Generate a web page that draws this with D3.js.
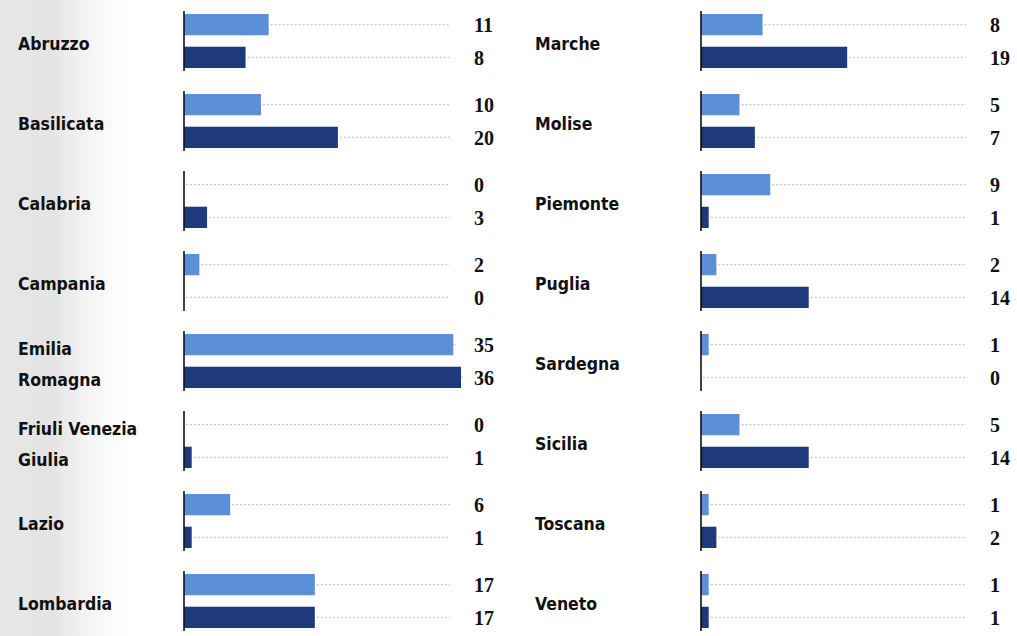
<!DOCTYPE html>
<html>
<head>
<meta charset="utf-8">
<script src="https://cdn.jsdelivr.net/npm/d3@7"></script>
<style>
  html, body { margin: 0; padding: 0; background: #ffffff; }
  svg { display: block; }
</style>
</head>
<body>
<svg id="chart" width="1017" height="636"></svg>
<script>
// ---- data ----
const seriesKeys = ["serieA", "serieB"];
const leftRegions = ["Abruzzo", "Basilicata", "Calabria", "Campania", "Emilia Romagna", "Friuli Venezia Giulia", "Lazio", "Lombardia"];
const leftSerieA  = [11, 10, 0, 2, 35, 0, 6, 17];
const leftSerieB  = [8, 20, 3, 0, 36, 1, 1, 17];
const rightRegions = ["Marche", "Molise", "Piemonte", "Puglia", "Sardegna", "Sicilia", "Toscana", "Veneto"];
const rightSerieA  = [8, 5, 9, 2, 1, 5, 1, 1];
const rightSerieB  = [19, 7, 1, 14, 0, 14, 2, 1];
// label line breaks
const labelLines = {
  "Emilia Romagna": ["Emilia", "Romagna"],
  "Friuli Venezia Giulia": ["Friuli Venezia", "Giulia"]
};

const colors = { serieA: "#5b8fd8", serieB: "#1f3a7c" };

const svg = d3.select("#chart");

// faint grey strip on left (paper texture impression)
const defs = svg.append("defs");
const grad = defs.append("linearGradient").attr("id", "strip").attr("x1", 0).attr("x2", 1);
grad.append("stop").attr("offset", "0%").attr("stop-color", "#d4d4d4").attr("stop-opacity", 0.55);
grad.append("stop").attr("offset", "40%").attr("stop-color", "#cdcdcd").attr("stop-opacity", 0.55);
grad.append("stop").attr("offset", "100%").attr("stop-color", "#e6e6e6").attr("stop-opacity", 0);
svg.append("rect").attr("x", 0).attr("y", 0).attr("width", 130).attr("height", 636).attr("fill", "url(#strip)");

const x = d3.scaleLinear().domain([0, 36]).range([0, 277]);

function panel(regions, a, b, cfg) {
  const data = regions.map((r, i) => ({ region: r, serieA: a[i], serieB: b[i] }));
  const y = d3.scaleBand().domain(regions).range([14, 14 + 8 * 80 - 26]).paddingInner(0.325).paddingOuter(0);
  const yi = d3.scaleBand().domain(seriesKeys).range([0, y.bandwidth()]).paddingInner(0.35);

  const g = svg.append("g");
  const groups = g.selectAll("g.grp").data(data).join("g")
    .attr("class", "grp")
    .attr("transform", d => `translate(0,${y(d.region)})`);

  const items = groups.selectAll("g.item")
    .data(d => seriesKeys.map(k => ({ key: k, value: d[k] })))
    .join("g").attr("class", "item");

  // dotted leader lines
  items.append("line")
    .attr("x1", d => cfg.x0 + x(d.value) + 2)
    .attr("x2", cfg.lineEnd)
    .attr("y1", d => yi(d.key) + yi.bandwidth() / 2)
    .attr("y2", d => yi(d.key) + yi.bandwidth() / 2)
    .attr("stroke", "#c8c8c8")
    .attr("stroke-width", 1.2)
    .attr("stroke-dasharray", "2,2");

  // bars
  items.append("rect")
    .attr("x", cfg.x0)
    .attr("y", d => yi(d.key))
    .attr("width", d => x(d.value))
    .attr("height", yi.bandwidth())
    .attr("fill", d => colors[d.key]);

  // values
  items.append("text")
    .attr("x", cfg.valueX)
    .attr("y", d => yi(d.key) + yi.bandwidth() / 2)
    .attr("dy", "0.36em")
    .attr("font-family", "'Liberation Serif', 'DejaVu Serif', serif")
    .attr("font-weight", "bold")
    .attr("font-size", 20)
    .attr("fill", "#111")
    .text(d => d.value);

  // axis lines
  groups.append("line")
    .attr("x1", cfg.x0).attr("x2", cfg.x0)
    .attr("y1", -3).attr("y2", y.bandwidth() + 3)
    .attr("stroke", "#111").attr("stroke-width", 1.6);

  // region labels
  groups.each(function (d) {
    const lines = labelLines[d.region] || [d.region];
    const t = d3.select(this).append("text")
      .attr("x", cfg.labelX)
      .attr("font-family", "'DejaVu Sans Condensed', 'DejaVu Sans', sans-serif")
      .attr("font-stretch", "condensed")
      .attr("font-weight", "bold")
      .attr("font-size", 17.5)
      .attr("fill", "#111");
    const mid = y.bandwidth() / 2 + 3;
    const lh = 31;
    lines.forEach((ln, i) => {
      t.append("tspan")
        .attr("x", cfg.labelX)
        .attr("y", mid + (i - (lines.length - 1) / 2) * lh)
        .attr("dy", "0.36em")
        .text(ln);
    });
  });
}

panel(leftRegions, leftSerieA, leftSerieB, { x0: 184, lineEnd: 450, valueX: 474, labelX: 18 });
panel(rightRegions, rightSerieA, rightSerieB, { x0: 701, lineEnd: 966, valueX: 990, labelX: 535 });
</script>
</body>
</html>
